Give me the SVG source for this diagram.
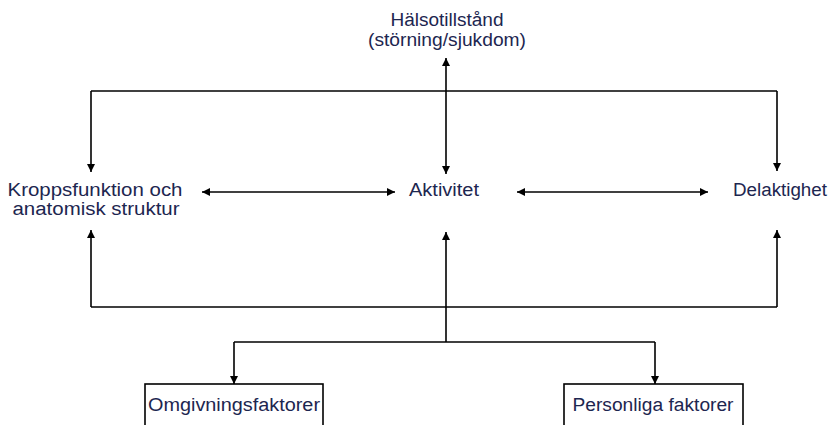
<svg xmlns="http://www.w3.org/2000/svg" width="831" height="425" viewBox="0 0 831 425">
<defs>
<marker id="ah" viewBox="0 0 10 10" refX="10" refY="5" markerWidth="9" markerHeight="8" markerUnits="userSpaceOnUse" orient="auto-start-reverse">
<path d="M0,0 L10,5 L0,10 z" fill="#000"/>
</marker>
<style>
.t{font-family:"Liberation Sans",Arial,sans-serif;font-size:18px;fill:#1d2650;text-anchor:middle}
.c{fill:none;stroke:#000;stroke-width:1.6}
.a{marker-end:url(#ah)}
.b{marker-start:url(#ah);marker-end:url(#ah)}
.box{fill:#fff;stroke:#000;stroke-width:1.6}
</style>
</defs>
<rect width="831" height="425" fill="#fff"/>
<g id="connectors">
<polyline class="c" points="91,91 777,91"/>
<line class="c a" x1="91" y1="91" x2="91" y2="172"/>
<line class="c a" x1="777" y1="91" x2="777" y2="171"/>
<line class="c b" x1="446" y1="58" x2="446" y2="174"/>
<line class="c b" x1="202" y1="192" x2="395" y2="192"/>
<line class="c b" x1="517" y1="192" x2="708" y2="192"/>
<polyline class="c" points="91,307 777,307"/>
<line class="c a" x1="91" y1="307" x2="91" y2="230"/>
<line class="c a" x1="777" y1="307" x2="777" y2="230"/>
<line class="c a" x1="446" y1="342" x2="446" y2="232"/>
<polyline class="c" points="234,342 655,342"/>
<line class="c a" x1="234" y1="342" x2="234" y2="384"/>
<line class="c a" x1="655" y1="342" x2="655" y2="384"/>
</g>
<g id="halsotillstand">
<text class="t" x="447" y="26" textLength="113" lengthAdjust="spacingAndGlyphs">Hälsotillstånd</text>
<text class="t" x="447" y="46" textLength="158" lengthAdjust="spacingAndGlyphs">(störning/sjukdom)</text>
</g>
<g id="kroppsfunktion">
<text class="t" x="95" y="196" textLength="175" lengthAdjust="spacingAndGlyphs">Kroppsfunktion och</text>
<text class="t" x="96" y="215" textLength="167" lengthAdjust="spacingAndGlyphs">anatomisk struktur</text>
</g>
<g id="aktivitet">
<text class="t" x="444" y="196" textLength="70" lengthAdjust="spacingAndGlyphs">Aktivitet</text>
</g>
<g id="delaktighet">
<text class="t" x="780" y="196" textLength="94" lengthAdjust="spacingAndGlyphs">Delaktighet</text>
</g>
<g id="omgivningsfaktorer">
<rect class="box" x="145" y="384" width="178" height="50"/>
<text class="t" x="234" y="411" textLength="172" lengthAdjust="spacingAndGlyphs">Omgivningsfaktorer</text>
</g>
<g id="personliga">
<rect class="box" x="564" y="384" width="179" height="50"/>
<text class="t" x="653" y="411" textLength="161" lengthAdjust="spacingAndGlyphs">Personliga faktorer</text>
</g>
</svg>
